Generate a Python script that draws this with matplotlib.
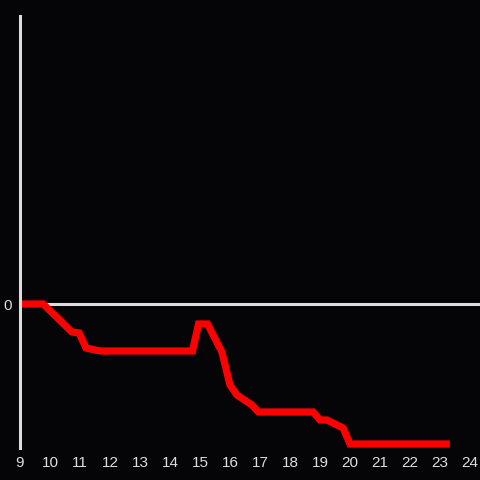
import matplotlib
matplotlib.use("Agg")
from matplotlib import pyplot as plt

# hour of day vs. value
hours = [9.0, 9.77, 10.73, 10.97, 11.2, 11.67, 14.75, 14.95, 15.25, 15.73,
         16.0, 16.23, 16.73, 16.95, 18.77, 19.0, 19.23, 19.77, 20.0, 23.33]
values = [0.0, 0.0, -2.8, -2.9, -4.4, -4.7, -4.7, -2.0, -2.0, -4.8,
          -8.1, -9.1, -10.1, -10.8, -10.8, -11.6, -11.6, -12.4, -14.0, -14.0]
xticks = list(range(9, 25))

bg = "#050407"
fg = "#dddddd"

fig = plt.figure(figsize=(4.8, 4.8), dpi=100, facecolor=bg)
ax = fig.add_axes([20 / 480, 32 / 480, 460 / 480, 432 / 480])
ax.set_facecolor(bg)

ax.axhline(0, color=fg, lw=2.2, zorder=1)
ax.plot(hours, values, color="#ff0000", lw=5.2,
        solid_capstyle="butt", solid_joinstyle="miter", zorder=2)

ax.set_xlim(9, 24.333)
ax.set_ylim(-14.4, 28.8)

for side in ["top", "right", "bottom"]:
    ax.spines[side].set_visible(False)
ax.spines["left"].set_color(fg)
ax.spines["left"].set_linewidth(2.2)

ax.set_xticks(xticks)
ax.set_yticks([0])
ax.tick_params(length=0, colors=fg, labelsize=11, pad=6)
for lab in ax.get_xticklabels() + ax.get_yticklabels():
    lab.set_family("Liberation Sans")

fig.savefig("out.png", dpi=100, facecolor=bg)
